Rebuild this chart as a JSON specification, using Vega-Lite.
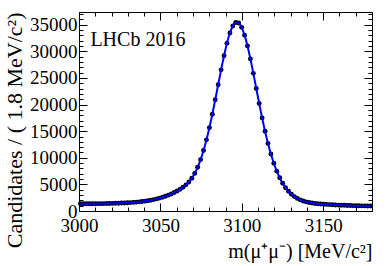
{
  "$schema": "https://vega.github.io/schema/vega-lite/v6.json",
  "width": 293,
  "height": 199,
  "autosize": "none",
  "padding": {"left": 79, "top": 12, "right": 20, "bottom": 55},
  "background": "white",
  "config": {"view": {"stroke": null}},
  "datasets": {
    "d": [
      {"m":3000.9,"n":1355},{"m":3002.7,"n":1357},{"m":3004.5,"n":1359},{"m":3006.3,"n":1362},{"m":3008.1,"n":1366},
      {"m":3009.9,"n":1372},{"m":3011.7,"n":1378},{"m":3013.5,"n":1385},{"m":3015.3,"n":1394},{"m":3017.1,"n":1405},
      {"m":3018.9,"n":1417},{"m":3020.7,"n":1431},{"m":3022.5,"n":1448},{"m":3024.3,"n":1468},{"m":3026.1,"n":1490},
      {"m":3027.9,"n":1516},{"m":3029.7,"n":1546},{"m":3031.5,"n":1580},{"m":3033.3,"n":1619},{"m":3035.1,"n":1665},
      {"m":3036.9,"n":1717},{"m":3038.7,"n":1778},{"m":3040.5,"n":1849},{"m":3042.3,"n":1931},{"m":3044.1,"n":2026},
      {"m":3045.9,"n":2138},{"m":3047.7,"n":2270},{"m":3049.5,"n":2425},{"m":3051.3,"n":2582},{"m":3053.1,"n":2773},
      {"m":3054.9,"n":2975},{"m":3056.7,"n":3206},{"m":3058.5,"n":3466},{"m":3060.3,"n":3756},{"m":3062.1,"n":4080},
      {"m":3063.9,"n":4459},{"m":3065.7,"n":4911},{"m":3067.5,"n":5462},{"m":3069.3,"n":6154},{"m":3071.1,"n":7067},
      {"m":3072.9,"n":8228},{"m":3074.7,"n":9654},{"m":3076.5,"n":11364},{"m":3078.3,"n":13374},{"m":3080.1,"n":15654},
      {"m":3081.9,"n":18187},{"m":3083.7,"n":20908},{"m":3085.5,"n":23728},{"m":3087.3,"n":26532},{"m":3089.1,"n":29188},
      {"m":3090.9,"n":31544},{"m":3092.7,"n":33449},{"m":3094.5,"n":34771},{"m":3096.3,"n":35413},{"m":3098.1,"n":35327},
      {"m":3099.9,"n":34520},{"m":3101.7,"n":33052},{"m":3103.5,"n":31027},{"m":3105.3,"n":28584},{"m":3107.1,"n":25870},
      {"m":3108.9,"n":23035},{"m":3110.7,"n":20206},{"m":3112.5,"n":17499},{"m":3114.3,"n":14981},{"m":3116.1,"n":12709},
      {"m":3117.9,"n":10701},{"m":3119.7,"n":8965},{"m":3121.5,"n":7487},{"m":3123.3,"n":6247},{"m":3125.1,"n":5222},
      {"m":3126.9,"n":4380},{"m":3128.7,"n":3700},{"m":3130.5,"n":3150},{"m":3132.3,"n":2711},{"m":3134.1,"n":2364},
      {"m":3135.9,"n":2090},{"m":3137.7,"n":1879},{"m":3139.5,"n":1715},{"m":3141.3,"n":1592},{"m":3143.1,"n":1499},
      {"m":3144.9,"n":1423},{"m":3146.7,"n":1366},{"m":3148.5,"n":1317},{"m":3150.3,"n":1275},{"m":3152.1,"n":1238},
      {"m":3153.9,"n":1202},{"m":3155.7,"n":1172},{"m":3157.5,"n":1141},{"m":3159.3,"n":1113},{"m":3161.1,"n":1089},
      {"m":3162.9,"n":1067},{"m":3164.7,"n":1046},{"m":3166.5,"n":1027},{"m":3168.3,"n":1010},{"m":3170.1,"n":995},
      {"m":3171.9,"n":980},{"m":3173.7,"n":967},{"m":3175.5,"n":956},{"m":3177.3,"n":946},{"m":3179.1,"n":936}
    ]
  },
  "data": {"name": "d"},
  "layer": [
    {
      "mark": {"type": "point", "filled": true, "color": "black", "size": 24, "opacity": 1},
      "encoding": {
        "x": {
          "field": "m", "type": "quantitative",
          "scale": {"domain": [3000, 3180], "nice": false, "zero": false},
          "axis": {
            "orient": "bottom",
            "values": [3000,3010,3020,3030,3040,3050,3060,3070,3080,3090,3100,3110,3120,3130,3140,3150,3160,3170,3180],
            "format": "d",
            "labelExpr": "datum.value % 50 === 0 ? datum.label : ''",
            "tickSize": {"condition": {"test": "datum.value % 50 === 0", "value": -8}, "value": -4},
            "labelPadding": 13,
            "labelFont": "Liberation Serif", "labelFontSize": 19, "labelColor": "black",
            "labelFlush": false, "labelOverlap": false,
            "domainColor": "black", "tickColor": "black", "grid": false,
            "title": "m(μ⁺μ⁻) [MeV/c²]",
            "titleAnchor": "end", "titleFont": "Liberation Serif", "titleFontSize": 20,
            "titleFontWeight": "normal", "titleColor": "black", "titlePadding": 2
          }
        },
        "y": {
          "field": "n", "type": "quantitative",
          "scale": {"domain": [0, 37400], "nice": false, "zero": true},
          "axis": {
            "orient": "left",
            "values": [0,1000,2000,3000,4000,5000,6000,7000,8000,9000,10000,11000,12000,13000,14000,15000,16000,17000,18000,19000,20000,21000,22000,23000,24000,25000,26000,27000,28000,29000,30000,31000,32000,33000,34000,35000,36000,37000],
            "format": "d",
            "labelExpr": "datum.value % 5000 === 0 ? datum.label : ''",
            "tickSize": {"condition": {"test": "datum.value % 5000 === 0", "value": -8}, "value": -4},
            "labelPadding": 10,
            "labelFont": "Liberation Serif", "labelFontSize": 19, "labelColor": "black",
            "labelFlush": false, "labelOverlap": false,
            "domainColor": "black", "tickColor": "black", "grid": false,
            "title": "Candidates / ( 1.8 MeV/c²)",
            "titleAnchor": "end", "titleFont": "Liberation Serif", "titleFontSize": 22,
            "titleFontWeight": "normal", "titleColor": "black", "titlePadding": 3
          }
        }
      }
    },
    {
      "mark": {"type": "line", "color": "#0000ff", "strokeWidth": 2, "interpolate": "monotone"},
      "encoding": {
        "x": {
          "field": "m", "type": "quantitative",
          "scale": {"domain": [3000, 3180], "nice": false, "zero": false},
          "axis": {
            "orient": "top",
            "values": [3000,3010,3020,3030,3040,3050,3060,3070,3080,3090,3100,3110,3120,3130,3140,3150,3160,3170,3180],
            "labels": false,
            "tickSize": {"condition": {"test": "datum.value % 50 === 0", "value": -8}, "value": -4},
            "domainColor": "black", "tickColor": "black", "grid": false, "title": null
          }
        },
        "y": {
          "field": "n", "type": "quantitative",
          "scale": {"domain": [0, 37400], "nice": false, "zero": true},
          "axis": {
            "orient": "right",
            "values": [0,1000,2000,3000,4000,5000,6000,7000,8000,9000,10000,11000,12000,13000,14000,15000,16000,17000,18000,19000,20000,21000,22000,23000,24000,25000,26000,27000,28000,29000,30000,31000,32000,33000,34000,35000,36000,37000],
            "labels": false,
            "tickSize": {"condition": {"test": "datum.value % 5000 === 0", "value": -8}, "value": -4},
            "domainColor": "black", "tickColor": "black", "grid": false, "title": null
          }
        }
      }
    },
    {
      "data": {"values": [{"label": "LHCb 2016"}]},
      "mark": {"type": "text", "align": "left", "baseline": "alphabetic", "font": "Liberation Serif", "fontSize": 20, "color": "black"},
      "encoding": {
        "x": {"datum": 3007, "type": "quantitative", "axis": null},
        "y": {"datum": 31000, "type": "quantitative", "axis": null},
        "text": {"field": "label"}
      }
    }
  ],
  "resolve": {"axis": {"x": "independent", "y": "independent"}}
}
